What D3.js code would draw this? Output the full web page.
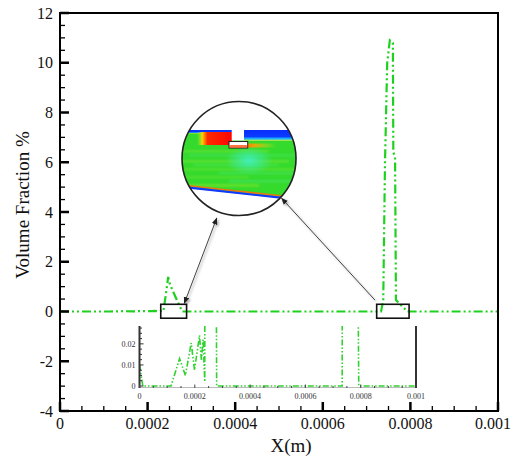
<!DOCTYPE html>
<html>
<head>
<meta charset="utf-8">
<script src="https://cdn.jsdelivr.net/npm/d3@7"></script>
<style>
  html, body { margin: 0; padding: 0; background: #fff; }
  svg { display: block; }
  text { font-family: "Liberation Serif", Tinos, "Times New Roman", Times, serif; }
</style>
</head>
<body>
<svg id="chart" width="512" height="459"></svg>
<script>
// ---------------- data ----------------
const xPos = [0, 0.000012, 0.000114, 0.000145, 0.000166, 0.000187, 0.000199, 0.000217, 0.000224, 0.00023, 0.000236,
              0.000241, 0.000247, 0.000251, 0.000262, 0.000279,
              0.000733, 0.000738, 0.000742, 0.000747, 0.000753, 0.00076, 0.000761, 0.000765, 0.000767, 0.000776, 0.000793, 0.001];
const volFrac = [0.01, 0, 0, 0.013, 0.005, 0.0204, 0.0075, 0.024, 0.012, 0.022, 0.002,
                 0.6, 1.39, 1.1, 0.65, 0,
                 0, 0.46, 5.97, 9.98, 10.9, 10.8, 6.4, 6.2, 0.46, 0.3, 0, 0];

const xTicks = [0, 0.0002, 0.0004, 0.0006, 0.0008, 0.001];
const xTickLabels = ["0", "0.0002", "0.0004", "0.0006", "0.0008", "0.001"];
const yTicks = [-4, -2, 0, 2, 4, 6, 8, 10, 12];
const yTickLabels = ["-4", "-2", "0", "2", "4", "6", "8", "10", "12"];

const insetYTicks = [0, 0.01, 0.02];
const insetYTickLabels = ["0", "0.01", "0.02"];
const insetXTicks = [0, 0.0002, 0.0004, 0.0006, 0.0008, 0.001];
const insetXTickLabels = ["0", "0.0002", "0.0004", "0.0006", "0.0008", "0.001"];

const xLabel = "X(m)";
const yLabel = "Volume Fraction %";

// ---------------- layout ----------------
const svg = d3.select("#chart");
const W = 512;
const L = 60, R = 498, T = 13, B = 411;
const x = d3.scaleLinear().domain([0, 0.001]).range([L, R]);
const y = d3.scaleLinear().domain([-4, 12]).range([B, T]);
const green = "#1fd11f";

const data = xPos.map((v, i) => ({x: v, y: volFrac[i]}));

const defs = svg.append("defs");
defs.append("clipPath").attr("id", "plotClip").append("rect")
  .attr("x", L).attr("y", T).attr("width", R - L).attr("height", B - T);

defs.append("marker").attr("id", "arrowHead").attr("viewBox", "0 0 10 10")
  .attr("refX", 9).attr("refY", 5).attr("markerWidth", 7).attr("markerHeight", 7)
  .attr("orient", "auto-start-reverse")
  .append("path").attr("d", "M0,1 L10,5 L0,9 z").attr("fill", "#222");

defs.append("filter").attr("id", "shadow").attr("x", "-20%").attr("y", "-20%").attr("width", "140%").attr("height", "140%")
  .append("feDropShadow").attr("dx", 1.5).attr("dy", 1.5).attr("stdDeviation", 1.2).attr("flood-color", "#000").attr("flood-opacity", 0.35);

defs.append("filter").attr("id", "soft").append("feGaussianBlur").attr("stdDeviation", 0.8);

// ---------------- main line ----------------
const line = d3.line().x(d => x(d.x)).y(d => y(d.y));
svg.append("path").datum(data)
  .attr("clip-path", "url(#plotClip)")
  .attr("d", line)
  .attr("fill", "none").attr("stroke", green).attr("stroke-width", 2.2)
  .attr("stroke-dasharray", "9,3,2,3,2,3");

// ---------------- axes ----------------
const yMinor = d3.range(-4, 12.01, 0.5);
svg.append("g").selectAll("line").data(yMinor).join("line")
  .attr("x1", L).attr("x2", d => L + (Math.abs(d % 2) < 1e-9 ? 9 : 5))
  .attr("y1", d => y(d)).attr("y2", d => y(d))
  .attr("stroke", "#000").attr("stroke-width", d => Math.abs(d % 2) < 1e-9 ? 2.5 : 1.3);

svg.append("g").selectAll("text").data(yTicks).join("text")
  .attr("x", L - 7).attr("y", d => y(d)).attr("dy", "0.35em")
  .attr("text-anchor", "end").attr("font-size", 16).attr("fill", "#111")
  .text((d, i) => yTickLabels[i]);

const xMinor = d3.range(0, 0.0010001, 0.00005);
svg.append("g").selectAll("line").data(xMinor).join("line")
  .attr("x1", d => x(d)).attr("x2", d => x(d))
  .attr("y1", B).attr("y2", (d, i) => B - (i % 4 === 0 ? 9 : 5))
  .attr("stroke", "#000").attr("stroke-width", (d, i) => i % 4 === 0 ? 2.5 : 1.3);

svg.append("g").selectAll("text").data(xTicks).join("text")
  .attr("x", (d, i) => i === xTicks.length - 1 ? W - 1 : x(d)).attr("y", B + 18)
  .attr("text-anchor", (d, i) => i === xTicks.length - 1 ? "end" : "middle")
  .attr("font-size", 16).attr("fill", "#111")
  .text((d, i) => xTickLabels[i]);

svg.append("rect").attr("x", L).attr("y", T).attr("width", R - L).attr("height", B - T)
  .attr("fill", "none").attr("stroke", "#000").attr("stroke-width", 2);

svg.append("text").attr("x", 291).attr("y", 452).attr("text-anchor", "middle")
  .attr("font-size", 19).attr("fill", "#111").text(xLabel);
svg.append("text").attr("transform", "translate(29,205) rotate(-90)").attr("text-anchor", "middle")
  .attr("font-size", 19).attr("fill", "#111").text(yLabel);

// ---------------- zoom boxes & arrows ----------------
const boxes = [
  {x0: 0.00023, x1: 0.000289, y0: 0.29, y1: -0.27},
  {x0: 0.000723, x1: 0.000797, y0: 0.29, y1: -0.27}
];
svg.append("g").selectAll("rect").data(boxes).join("rect")
  .attr("x", d => x(d.x0)).attr("y", d => y(d.y0))
  .attr("width", d => x(d.x1) - x(d.x0)).attr("height", d => y(d.y1) - y(d.y0))
  .attr("fill", "none").attr("stroke", "#111").attr("stroke-width", 1.6);

const arrows = [
  {x0: 0.0002838, y0: 0.33, x1: 0.0003578, y1: 3.75, both: true},
  {x0: 0.000719, y0: 0.46, x1: 0.000506, y1: 4.55, both: false}
];
svg.append("g").attr("filter", "url(#shadow)").selectAll("line").data(arrows).join("line")
  .attr("x1", d => x(d.x0)).attr("y1", d => y(d.y0))
  .attr("x2", d => x(d.x1)).attr("y2", d => y(d.y1))
  .attr("stroke", "#444").attr("stroke-width", 1)
  .attr("marker-end", "url(#arrowHead)")
  .attr("marker-start", d => d.both ? "url(#arrowHead)" : null);

// ---------------- magnifier ----------------
const cx = x(0.0004087), cy = y(6.15), r = 57;
defs.append("clipPath").attr("id", "magClip").append("circle").attr("cx", cx).attr("cy", cy).attr("r", r);

const gradL = defs.append("linearGradient").attr("id", "gradRed").attr("x1", "0").attr("x2", "1").attr("y1", "0").attr("y2", "0");
gradL.append("stop").attr("offset", "0").attr("stop-color", "#9be83a").attr("stop-opacity", 0);
gradL.append("stop").attr("offset", "0.15").attr("stop-color", "#ffd000");
gradL.append("stop").attr("offset", "0.3").attr("stop-color", "#ff2a00");
gradL.append("stop").attr("offset", "1").attr("stop-color", "#ff0500");

const gradB = defs.append("linearGradient").attr("id", "gradBlue").attr("x1", "0").attr("x2", "0").attr("y1", "0").attr("y2", "1");
gradB.append("stop").attr("offset", "0").attr("stop-color", "#0a2cff");
gradB.append("stop").attr("offset", "0.6").attr("stop-color", "#0a3cff");
gradB.append("stop").attr("offset", "0.8").attr("stop-color", "#20c0ff");
gradB.append("stop").attr("offset", "1").attr("stop-color", "#c0f020");

const gradO = defs.append("linearGradient").attr("id", "gradOrange").attr("x1", "0").attr("x2", "1").attr("y1", "0").attr("y2", "0");
gradO.append("stop").attr("offset", "0").attr("stop-color", "#ff3000");
gradO.append("stop").attr("offset", "0.5").attr("stop-color", "#ffa000");
gradO.append("stop").attr("offset", "1").attr("stop-color", "#d0f020").attr("stop-opacity", 0);

const gradC = defs.append("radialGradient").attr("id", "gradCyan");
gradC.append("stop").attr("offset", "0").attr("stop-color", "#40f0c8").attr("stop-opacity", 0.9);
gradC.append("stop").attr("offset", "1").attr("stop-color", "#40f0c8").attr("stop-opacity", 0);

const mag = svg.append("g").attr("clip-path", "url(#magClip)");
mag.append("circle").attr("cx", cx).attr("cy", cy).attr("r", r).attr("fill", "#fff");
const topY = cy - 28.5;
const botL = {x: cx - 62, y: cy + 28.4}, botR = {x: cx + 62, y: cy + 42};
mag.append("path")
  .attr("d", `M${cx - 62},${topY} L${cx + 62},${topY} L${botR.x},${botR.y} L${botL.x},${botL.y} Z`)
  .attr("fill", "#34da2c");
const streaks = [
  {dy: 2, h: 1.6, c: "#b8f040", o: 0.45, x0: -60, x1: 50},
  {dy: 6, h: 1.3, c: "#70f080", o: 0.45, x0: -45, x1: 40},
  {dy: 10, h: 1.6, c: "#a8ee3a", o: 0.4, x0: -55, x1: 60},
  {dy: 14, h: 1.3, c: "#60f0a0", o: 0.5, x0: -20, x1: 60},
  {dy: 18, h: 1.5, c: "#a0ee40", o: 0.4, x0: -60, x1: 10},
  {dy: 22, h: 1.5, c: "#60eeb0", o: 0.45, x0: -10, x1: 60},
  {dy: -4, h: 1.6, c: "#60f0a0", o: 0.4, x0: -50, x1: 60},
  {dy: -8, h: 1.4, c: "#a8f040", o: 0.5, x0: -60, x1: 30},
  {dy: 26, h: 1.8, c: "#c8ee30", o: 0.5, x0: -60, x1: 20}
];
mag.append("g").attr("filter", "url(#soft)").selectAll("rect").data(streaks).join("rect")
  .attr("x", d => cx + d.x0).attr("y", d => cy + d.dy).attr("width", d => d.x1 - d.x0).attr("height", d => d.h)
  .attr("fill", d => d.c).attr("opacity", d => d.o);
mag.append("ellipse").attr("cx", cx + 10).attr("cy", cy + 2).attr("rx", 24).attr("ry", 14).attr("fill", "url(#gradCyan)");
mag.append("rect").attr("x", cx - 62).attr("y", topY).attr("width", 55).attr("height", 3.5).attr("fill", "url(#gradBlue)");
mag.append("rect").attr("x", cx - 42).attr("y", topY + 2).attr("width", 35).attr("height", 13).attr("fill", "url(#gradRed)");
mag.append("rect").attr("x", cx + 5).attr("y", topY).attr("width", 60).attr("height", 11).attr("fill", "url(#gradBlue)");
mag.append("rect").attr("x", cx - 8).attr("y", cy - 15).attr("width", 46).attr("height", 4).attr("fill", "url(#gradOrange)").attr("opacity", 0.9);
mag.append("rect").attr("x", cx - 7.3).attr("y", topY - 1).attr("width", 12.3).attr("height", 11.5).attr("fill", "#fff");
mag.append("rect").attr("x", cx - 10).attr("y", cy - 17).attr("width", 18.7).attr("height", 6.5)
  .attr("fill", "#fff").attr("stroke", "#222").attr("stroke-width", 1);
mag.append("rect").attr("x", cx - 9.5).attr("y", cy - 13.5).attr("width", 17.7).attr("height", 2.8).attr("fill", "#ff5010").attr("opacity", 0.8);
mag.append("line").attr("x1", botL.x).attr("y1", botL.y - 2.5).attr("x2", botR.x).attr("y2", botR.y - 2.5)
  .attr("stroke", "#ff6a10").attr("stroke-width", 1.6).attr("opacity", 0.9);
mag.append("line").attr("x1", botL.x).attr("y1", botL.y - 0.6).attr("x2", botR.x).attr("y2", botR.y - 0.6)
  .attr("stroke", "#1038ff").attr("stroke-width", 2.2);
svg.append("circle").attr("cx", cx).attr("cy", cy).attr("r", r)
  .attr("fill", "none").attr("stroke", "#222").attr("stroke-width", 1.6);

// ---------------- inset ----------------
const ix = d3.scaleLinear().domain([0, 0.001]).range([139.5, 416]);
const iy = d3.scaleLinear().domain([0, 0.028]).range([386, 327]);
const ig = svg.append("g");
defs.append("clipPath").attr("id", "insetClip").append("rect")
  .attr("x", 139.5).attr("y", 326).attr("width", 416 - 139.5).attr("height", 388 - 326);

ig.append("line").attr("x1", 139.5).attr("x2", 416).attr("y1", 387.5).attr("y2", 387.5)
  .attr("stroke", "#bbb").attr("stroke-width", 1);

const iline = d3.line().x(d => ix(d.x)).y(d => iy(d.y));
ig.append("path").datum(data).attr("clip-path", "url(#insetClip)")
  .attr("d", iline).attr("fill", "none").attr("stroke", "#2fd22f").attr("stroke-width", 1.6)
  .attr("stroke-dasharray", "6,2,1.5,2,1.5,2");

ig.append("line").attr("x1", 139.5).attr("x2", 139.5).attr("y1", 326).attr("y2", 388)
  .attr("stroke", "#333").attr("stroke-width", 2);
ig.append("line").attr("x1", 416).attr("x2", 416).attr("y1", 326).attr("y2", 388)
  .attr("stroke", "#333").attr("stroke-width", 2);
const iyMinor = d3.range(0, 0.0276, 0.0025);
ig.append("g").selectAll("line").data(iyMinor).join("line")
  .attr("x1", 139.5).attr("x2", (d, i) => 139.5 + (i % 4 === 0 ? 4 : 2.5))
  .attr("y1", d => iy(d)).attr("y2", d => iy(d)).attr("stroke", "#333").attr("stroke-width", 1);
ig.append("g").selectAll("text").data(insetYTicks).join("text")
  .attr("x", 135.5).attr("y", d => iy(d)).attr("dy", "0.35em")
  .attr("text-anchor", "end").attr("font-size", 8).attr("fill", "#333")
  .text((d, i) => insetYTickLabels[i]);
const ixMinor = d3.range(0, 0.0010001, 0.00005);
ig.append("g").selectAll("line").data(ixMinor).join("line")
  .attr("x1", d => ix(d)).attr("x2", d => ix(d))
  .attr("y1", 388).attr("y2", (d, i) => 388 - (i % 4 === 0 ? 3.5 : 2))
  .attr("stroke", "#444").attr("stroke-width", 1);
ig.append("g").selectAll("text").data(insetXTicks).join("text")
  .attr("x", d => ix(d)).attr("y", 398.5)
  .attr("text-anchor", "middle").attr("font-size", 8).attr("fill", "#333")
  .text((d, i) => insetXTickLabels[i]);
</script>
</body>
</html>
